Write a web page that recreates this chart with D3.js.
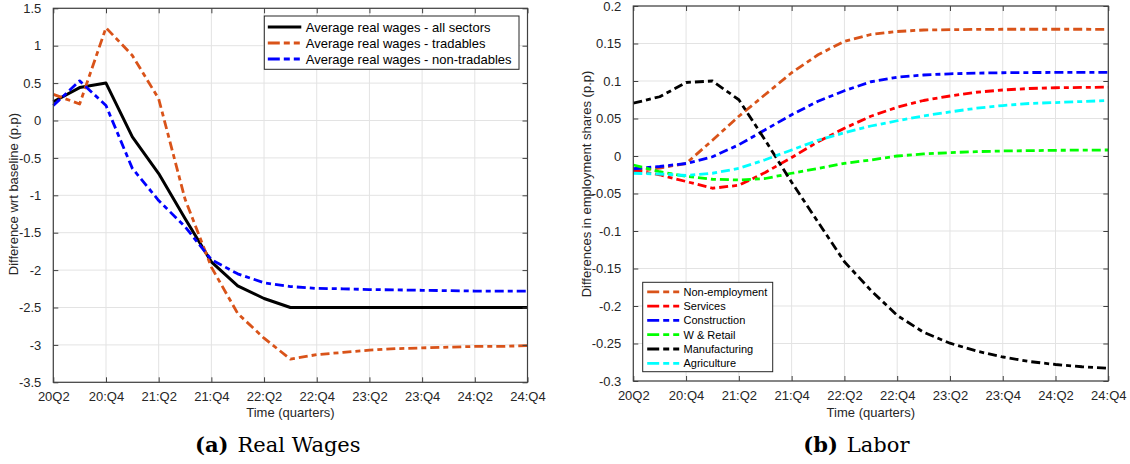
<!DOCTYPE html>
<html>
<head>
<meta charset="utf-8">
<script src="https://cdn.jsdelivr.net/npm/d3@7"></script>
<style>
  html, body { margin: 0; padding: 0; background: #fff; }
  svg { display: block; }
  .tick text { font-family: "Liberation Sans", Arial, sans-serif; font-size: 13px; fill: #262626; }
</style>
</head>
<body>
<svg id="fig" width="1130" height="464"></svg>
<script>
// Quarters from 2020Q2 to 2024Q4
const quarters = ["20:Q2","20:Q3","20:Q4","21:Q1","21:Q2","21:Q3","21:Q4","22:Q1","22:Q2","22:Q3",
                  "22:Q4","23:Q1","23:Q2","23:Q3","23:Q4","24:Q1","24:Q2","24:Q3","24:Q4"];
const quarterTickLabels = ["20Q2","20:Q4","21:Q2","21:Q4","22:Q2","22:Q4","23:Q2","23:Q4","24:Q2","24:Q4"];

// Panel (a): real wages, difference wrt baseline (p.p)
const wageTicks = [1.5, 1, 0.5, 0, -0.5, -1, -1.5, -2, -2.5, -3, -3.5];
const wagesAll = [0.25, 0.44, 0.50, -0.22, -0.71, -1.31, -1.89, -2.21, -2.38, -2.50,
                  -2.50, -2.50, -2.50, -2.50, -2.50, -2.50, -2.50, -2.50, -2.50];
const wagesTradables = [0.35, 0.22, 1.24, 0.87, 0.29, -1.05, -1.96, -2.58, -2.91, -3.19,
                        -3.13, -3.10, -3.07, -3.05, -3.04, -3.03, -3.02, -3.02, -3.01];
const wagesNonTradables = [0.20, 0.53, 0.20, -0.64, -1.07, -1.42, -1.86, -2.05, -2.17, -2.22,
                           -2.245, -2.25, -2.26, -2.265, -2.27, -2.275, -2.28, -2.28, -2.28];

// Panel (b): differences in employment shares (p.p)
const laborTicks = [0.2, 0.15, 0.1, 0.05, 0, -0.05, -0.1, -0.15, -0.2, -0.25, -0.3];
const laborTickLabels = ["0.2","0.15","0.1","0.05","0","-0.05","-0.1","-0.15","-0.2","-0.25","-0.3"];
const nonEmployment = [-0.020, -0.016, -0.010, 0.021, 0.053, 0.082, 0.111, 0.135, 0.153, 0.162,
                       0.166, 0.168, 0.1684, 0.1688, 0.169, 0.169, 0.169, 0.169, 0.1688];
const services = [-0.019, -0.025, -0.034, -0.043, -0.039, -0.022, -0.002, 0.019, 0.037, 0.053,
                  0.065, 0.074, 0.080, 0.085, 0.088, 0.090, 0.091, 0.0914, 0.0918];
const construction = [-0.017, -0.014, -0.010, -0.001, 0.015, 0.035, 0.055, 0.073, 0.087, 0.099,
                      0.105, 0.108, 0.1096, 0.1105, 0.111, 0.1113, 0.1114, 0.1114, 0.1114];
const wRetail = [-0.012, -0.021, -0.027, -0.031, -0.032, -0.030, -0.023, -0.0165, -0.0098, -0.0053,
                 0.0, 0.0027, 0.0045, 0.0058, 0.0067, 0.0071, 0.0076, 0.0078, 0.008];
const manufacturing = [0.0704, 0.079, 0.098, 0.100, 0.075, 0.021, -0.035, -0.088, -0.141, -0.179,
                       -0.2126, -0.235, -0.2496, -0.260, -0.268, -0.274, -0.278, -0.281, -0.283];
const agriculture = [-0.023, -0.024, -0.026, -0.023, -0.0165, -0.005, 0.008, 0.021, 0.031, 0.040,
                     0.047, 0.0535, 0.0588, 0.0637, 0.0673, 0.070, 0.0713, 0.0726, 0.074];

const wageSeries = [
  { name: "Average real wages - all sectors", values: wagesAll, color: "#000000", dash: null, width: 3 },
  { name: "Average real wages - tradables", values: wagesTradables, color: "#D95319", dash: "9,4,5,4", width: 2.8 },
  { name: "Average real wages - non-tradables", values: wagesNonTradables, color: "#0000FF", dash: "9,4,5,4", width: 2.8 }
];
const laborSeries = [
  { name: "Non-employment", values: nonEmployment, color: "#D95319" },
  { name: "Services", values: services, color: "#FF0000" },
  { name: "Construction", values: construction, color: "#0000FF" },
  { name: "W & Retail", values: wRetail, color: "#00FF00" },
  { name: "Manufacturing", values: manufacturing, color: "#000000" },
  { name: "Agriculture", values: agriculture, color: "#00FFFF" }
].map(s => Object.assign(s, { dash: "9,4,5,4", width: 2.8 }));

const svg = d3.select("#fig");
const sans = "'Liberation Sans', Arial, sans-serif";
const serif = "'DejaVu Serif', serif";

function panel(cfg) {
  const x = d3.scalePoint().domain(quarters).range([cfg.left, cfg.right]);
  const y = d3.scaleLinear().domain([cfg.ticks[cfg.ticks.length - 1], cfg.ticks[0]]).range([cfg.bottom, cfg.top]);
  const g = svg.append("g");
  const evenQuarters = quarters.filter((q, i) => i % 2 === 0);

  // grid
  g.append("g").selectAll("line.vg").data(evenQuarters).join("line")
    .attr("x1", d => x(d)).attr("x2", d => x(d)).attr("y1", cfg.top).attr("y2", cfg.bottom)
    .attr("stroke", "#e3e3e3").attr("stroke-width", 1);
  g.append("g").selectAll("line.hg").data(cfg.ticks).join("line")
    .attr("x1", cfg.left).attr("x2", cfg.right).attr("y1", d => y(d)).attr("y2", d => y(d))
    .attr("stroke", "#e3e3e3").attr("stroke-width", 1);

  // series
  const line = d3.line().x((d, i) => x(quarters[i])).y(d => y(d));
  const lines = g.append("g");
  cfg.series.forEach(s => {
    lines.append("path").attr("d", line(s.values))
      .attr("fill", "none").attr("stroke", s.color).attr("stroke-width", s.width)
      .attr("stroke-dasharray", s.dash).attr("stroke-linejoin", "round");
  });

  // axes (box with inward ticks)
  const axisColor = "#404040";
  const xb = g.append("g").attr("transform", `translate(0,${cfg.bottom})`)
    .call(d3.axisBottom(x).tickValues(evenQuarters).tickSizeInner(-5).tickSizeOuter(0).tickPadding(12)
      .tickFormat((d, i) => quarterTickLabels[i]));
  const xt = g.append("g").attr("transform", `translate(0,${cfg.top})`)
    .call(d3.axisTop(x).tickValues(evenQuarters).tickSizeInner(-5).tickSizeOuter(0).tickFormat(""));
  const yl = g.append("g").attr("transform", `translate(${cfg.left},0)`)
    .call(d3.axisLeft(y).tickValues(cfg.ticks).tickSizeInner(-5).tickSizeOuter(0).tickPadding(12)
      .tickFormat((d, i) => cfg.tickLabels[i]));
  const yr = g.append("g").attr("transform", `translate(${cfg.right},0)`)
    .call(d3.axisRight(y).tickValues(cfg.ticks).tickSizeInner(-5).tickSizeOuter(0).tickFormat(""));
  [xb, xt, yl, yr].forEach(a => {
    a.select(".domain").remove();
    a.selectAll(".tick line").attr("stroke", axisColor).attr("stroke-width", 1);
  });
  xb.selectAll(".tick text").attr("dy", "0.55em");
  g.append("rect").attr("x", cfg.left).attr("y", cfg.top)
    .attr("width", cfg.right - cfg.left).attr("height", cfg.bottom - cfg.top)
    .attr("fill", "none").attr("stroke", axisColor).attr("stroke-width", 1.2);

  // axis titles
  g.append("text").attr("x", (cfg.left + cfg.right) / 2).attr("y", 416.5)
    .attr("text-anchor", "middle").attr("font-family", sans).attr("font-size", 13)
    .attr("fill", "#262626").text("Time (quarters)");
  g.append("text").attr("transform", `translate(${cfg.ylabelX},${cfg.ylabelY}) rotate(-90)`)
    .attr("text-anchor", "middle").attr("font-family", sans).attr("font-size", 13)
    .attr("fill", "#262626").text(cfg.ylabel);

  // legend
  const L = cfg.legend;
  const lg = g.append("g");
  lg.append("rect").attr("x", L.x).attr("y", L.y).attr("width", L.w).attr("height", L.h)
    .attr("fill", "#fff").attr("stroke", "#262626").attr("stroke-width", 1);
  cfg.series.forEach((s, i) => {
    const yy = L.y + L.pad + i * L.row;
    lg.append("line").attr("x1", L.x + L.s0).attr("x2", L.x + L.s1).attr("y1", yy).attr("y2", yy)
      .attr("stroke", s.color).attr("stroke-width", s.width)
      .attr("stroke-dasharray", s.dash ? "12,4,6,4,6,4" : null);
    lg.append("text").attr("x", L.x + L.tx).attr("y", yy).attr("dy", "0.36em")
      .attr("font-family", sans).attr("font-size", L.fs).attr("fill", "#000").text(s.name);
  });

  // caption
  const cap = g.append("text").attr("x", cfg.capX).attr("y", 451.5)
    .attr("font-family", serif).attr("font-size", 21).attr("fill", "#000");
  cap.append("tspan").attr("font-weight", "bold").text(cfg.capTag);
  cap.append("tspan").attr("dx", 9).text(cfg.capText);
}

panel({
  left: 53.3, right: 527.5, top: 8.3, bottom: 382.3,
  ticks: wageTicks, tickLabels: wageTicks.map(String),
  series: wageSeries,
  ylabel: "Difference wrt baseline (p.p)", ylabelX: 17.5, ylabelY: 194,
  legend: { x: 264.3, y: 16, w: 254.7, h: 53.3, pad: 11, row: 16, s0: 3.5, s1: 37, tx: 41.5, fs: 13 },
  capX: 195, capTag: "(a)", capText: "Real Wages"
});

panel({
  left: 633.3, right: 1108.3, top: 6, bottom: 381,
  ticks: laborTicks, tickLabels: laborTickLabels,
  series: laborSeries,
  ylabel: "Differences in employment shares (p.p)", ylabelX: 591, ylabelY: 184,
  legend: { x: 642.7, y: 282.3, w: 130, h: 89.4, pad: 9.5, row: 14.3, s0: 4.5, s1: 37.5, tx: 40.8, fs: 11 },
  capX: 803.3, capTag: "(b)", capText: "Labor"
});
</script>
</body>
</html>
